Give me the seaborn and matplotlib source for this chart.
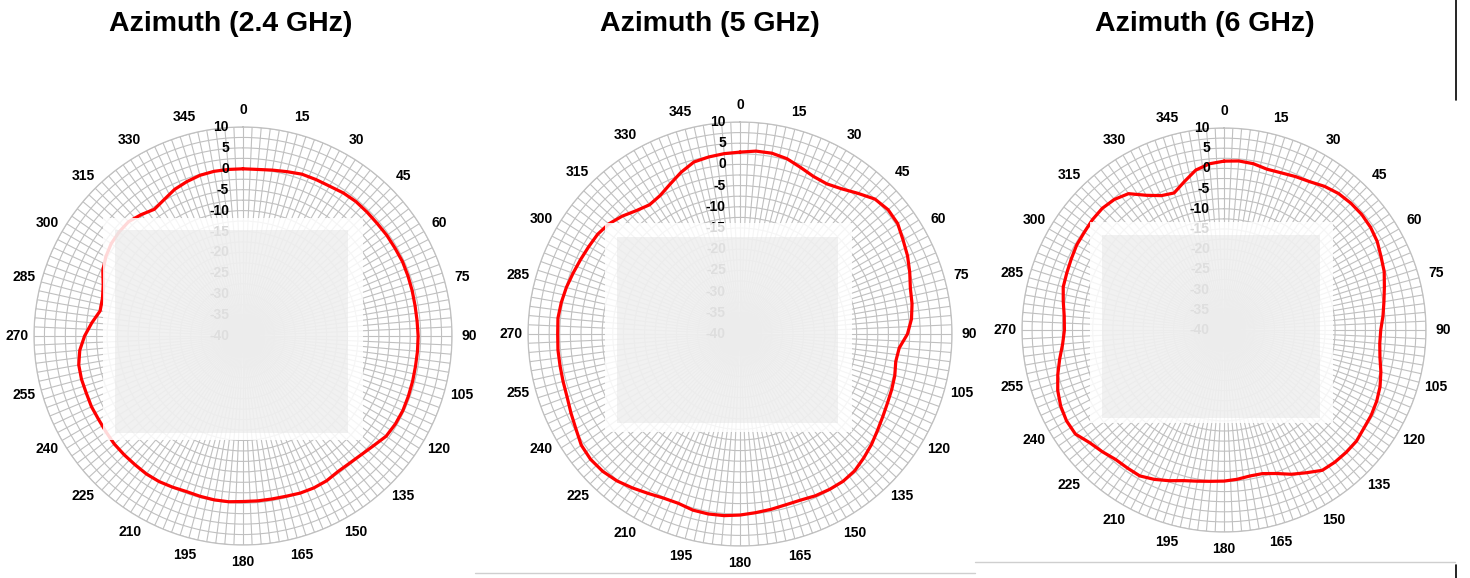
import numpy as np
import pandas as pd
import matplotlib
matplotlib.use("Agg")
import matplotlib.pyplot as plt
import matplotlib.transforms as mtransforms
from matplotlib.patches import Rectangle
from matplotlib.lines import Line2D
import seaborn as sns

# chart data
titles = ["Azimuth (2.4 GHz)", "Azimuth (5 GHz)", "Azimuth (6 GHz)"]
angles = list(range(0, 360, 5))

gain_24 = [0.0, 0.0, 0.3, 0.7, 1.2, 1.3, 1.4, 1.8, 2.0, 1.95, 1.9, 2.0,
           2.0, 2.1, 2.0, 1.9, 1.8, 1.8, 1.9, 1.9, 1.9, 2.0, 2.1, 2.2,
           2.1, 1.8, 0.8, 0.1, -0.3, -0.4, 0.0, 0.1, 0.0, -0.3, -0.4, -0.4,
           -0.4, -0.2, -0.2, -0.3, -0.4, -0.1, 0.2, 0.3, 0.2, 0.2, 0.2, 0.0,
           -0.1, 0.0, -0.1, 0.0, -0.1, -0.8, -2.1, -3.7, -5.3, -5.2, -4.4, -3.0,
           -2.1, -1.5, -1.3, -1.3, -2.1, -3.0, -2.3, -1.3, -0.7, -0.2, 0.0, 0.0]

gain_5 = [2.9, 3.3, 3.3, 2.8, 1.8, 1.0, 0.9, 1.8, 3.3, 5.0, 5.6, 5.4,
          4.4, 3.6, 2.6, 1.6, 1.2, 0.6, -0.5, -2.3, -2.7, -2.2, -1.9, -1.6,
          -1.1, -0.4, 0.5, 1.3, 2.1, 2.4, 2.3, 2.1, 1.7, 1.7, 2.0, 2.3,
          2.7, 3.0, 3.1, 3.0, 2.5, 2.7, 3.4, 4.3, 5.2, 5.8, 6.0, 5.7,
          4.7, 4.0, 3.4, 3.2, 3.1, 3.1, 3.0, 3.1, 2.8, 2.4, 1.9, 1.5,
          1.2, 1.0, 0.4, -0.7, -2.0, -2.8, -2.3, -1.0, 0.6, 2.0, 2.4, 2.7]

gain_6 = [1.8, 2.0, 1.8, 1.2, 1.4, 1.9, 2.4, 3.4, 4.1, 4.4, 4.5, 4.3,
          3.8, 2.9, 2.2, 1.1, 0.2, -0.5, -1.2, -1.3, -0.8, 0.2, 1.1, 1.7,
          2.1, 2.3, 2.8, 2.8, 2.7, 2.4, 0.8, -0.6, -2.2, -3.2, -3.3, -2.9,
          -2.6, -2.4, -2.0, -1.4, -0.3, 0.8, 1.7, 1.7, 1.8, 2.6, 3.4, 4.9,
          5.0, 4.6, 3.8, 2.6, 1.3, 0.1, -0.5, -0.3, 0.4, 1.2, 1.4, 1.7,
          2.1, 2.2, 2.5, 2.6, 2.2, 1.2, -1.5, -3.3, -3.9, -2.0, 0.2, 1.3]

series = [gain_24, gain_5, gain_6]
r_labels = [10, 5, 0, -5, -10, -15, -20, -25, -30, -35, -40]
theta_labels = list(range(0, 360, 15))

# figure layout (pixels on a 1470x578 canvas)
W, H = 1470, 578
centres = [(243, 336, 209), (740, 334, 212), (1224, 330, 202)]
title_x = [231, 710, 1205]
boxes_outer = [(103, 218, 363, 440), (605, 223, 852, 432), (1090, 222, 1333, 423)]
boxes_inner = [(115, 230, 348, 433), (617, 237, 838, 423), (1102, 235, 1320, 418)]

sns.set_style("white")
plt.rcParams["font.family"] = ["Liberation Sans", "DejaVu Sans"]
plt.rcParams["font.weight"] = "bold"
plt.rcParams["text.color"] = "black"

fig = plt.figure(figsize=(W / 100, H / 100), dpi=100)
grid_col = "#c0c0c0"


def frac_box(x0, y0, x1, y1):
    return (x0 / W, 1 - y1 / H), (x1 - x0) / W, (y1 - y0) / H


for i, gains in enumerate(series):
    cx, cy, R = centres[i]
    ax = fig.add_axes([(cx - R) / W, (H - cy - R) / H, 2 * R / W, 2 * R / H],
                      projection="polar")
    ax.set_theta_zero_location("N")
    ax.set_theta_direction(-1)

    df = pd.DataFrame({
        "theta": np.deg2rad(angles + [360]),
        "gain": gains + [gains[0]],
    })
    sns.lineplot(data=df, x="theta", y="gain", ax=ax, sort=False,
                 color="#ff0000", linewidth=2.3, zorder=3)
    ax.set_xlabel("")
    ax.set_ylabel("")
    ax.set_ylim(-40, 10)

    spokes = np.arange(0, 360, 2.5)
    ax.set_xticks(np.deg2rad(spokes))
    ax.set_xticklabels([str(int(a)) if a % 15 == 0 else "" for a in spokes])
    ax.tick_params(axis="x", pad=2, labelsize=10, colors="black")
    ax.set_yticks(np.arange(-40, 10.01, 2.5))
    ax.set_yticklabels([])
    ax.grid(True, color=grid_col, linewidth=0.8)
    ax.spines["polar"].set_color(grid_col)
    ax.spines["polar"].set_linewidth(0.9)

    shift = mtransforms.ScaledTranslation(-14 / 100, 0, fig.dpi_scale_trans)
    for r in r_labels:
        ax.text(0, r, str(r), ha="right", va="center", fontsize=10,
                fontweight="bold", color="black",
                transform=ax.transData + shift, zorder=4)

    fig.text(title_x[i] / W, 1 - 24 / H, titles[i], ha="center", va="center",
             fontsize=20.5, fontweight="bold", color="black")

    # faded box that sits over the centre of each pattern
    (x, y), w, h = frac_box(*boxes_outer[i])
    fig.add_artist(Rectangle((x, y), w, h, transform=fig.transFigure,
                             facecolor="white", edgecolor="none", alpha=0.85,
                             zorder=5))
    (x, y), w, h = frac_box(*boxes_inner[i])
    fig.add_artist(Rectangle((x, y), w, h, transform=fig.transFigure,
                             facecolor="#e4e4e4", edgecolor="none", alpha=0.5,
                             zorder=6))

# leftover screenshot edges
fig.add_artist(Line2D([475 / W, 975 / W], [1 - 573 / H] * 2, color="#cfcfcf",
                      linewidth=1, transform=fig.transFigure))
fig.add_artist(Line2D([975 / W, 1455 / W], [1 - 562 / H] * 2, color="#cfcfcf",
                      linewidth=1, transform=fig.transFigure))
fig.add_artist(Line2D([1456 / W] * 2, [1 - 0 / H, 1 - 100 / H], color="black",
                      linewidth=1.2, transform=fig.transFigure))
fig.add_artist(Line2D([1456 / W] * 2, [1 - 565 / H, 0], color="black",
                      linewidth=1.2, transform=fig.transFigure))

fig.savefig("out.png", dpi=100, facecolor="white")
